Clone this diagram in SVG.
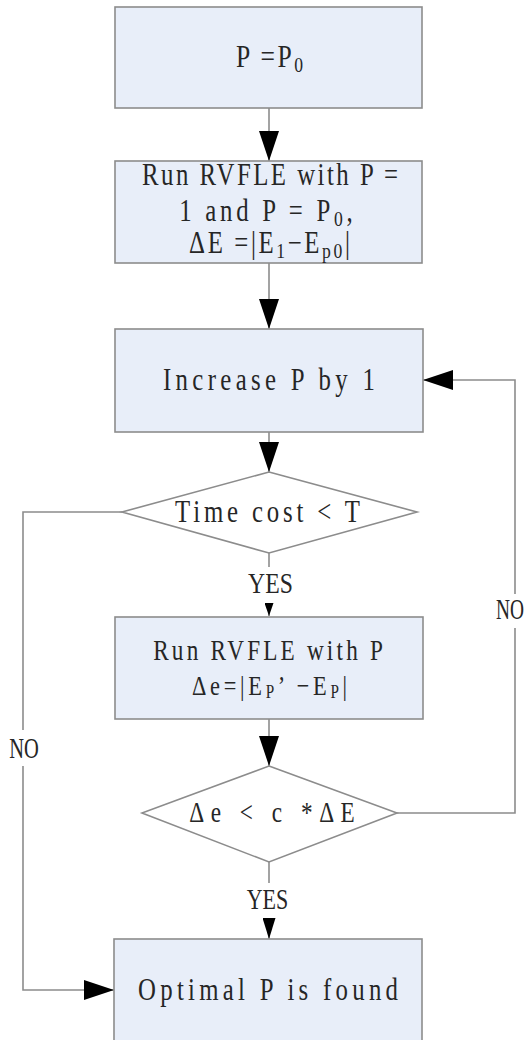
<svg xmlns="http://www.w3.org/2000/svg" width="529" height="1040" viewBox="0 0 529 1040">
  <style>
    .box { fill: #e8eef9; stroke: #8c8c8c; stroke-width: 1.6; }
    .dia { fill: #ffffff; stroke: #8c8c8c; stroke-width: 1.6; }
    .wire { fill: none; stroke: #8c8c8c; stroke-width: 1.6; }
    .t { font-family: "Liberation Serif", "DejaVu Serif", serif; fill: #262626; text-anchor: middle; }
  </style>
  <defs>
    <marker id="arrowBig" markerUnits="userSpaceOnUse" markerWidth="30" markerHeight="20" refX="30" refY="10" orient="auto">
      <path d="M0,0 L30,10 L0,20 Z" fill="#000000"/>
    </marker>
    <marker id="arrowMid" markerUnits="userSpaceOnUse" markerWidth="21" markerHeight="13" refX="21" refY="6.5" orient="auto">
      <path d="M0,0 L21,6.5 L0,13 Z" fill="#000000"/>
    </marker>
    <marker id="arrowSmall" markerUnits="userSpaceOnUse" markerWidth="13" markerHeight="9" refX="13" refY="4.5" orient="auto">
      <path d="M0,0 L13,4.5 L0,9 Z" fill="#000000"/>
    </marker>
  </defs>

  <!-- connectors -->
  <g id="connectors">
    <path class="wire" d="M269,108 V161" marker-end="url(#arrowBig)"/>
    <path class="wire" d="M269,263 V329" marker-end="url(#arrowBig)"/>
    <path class="wire" d="M269,432 V472" marker-end="url(#arrowBig)"/>
    <path class="wire" d="M269,553 V567"/>
    <path class="wire" d="M269,603 V616" marker-end="url(#arrowSmall)"/>
    <path class="wire" d="M269,719 V766" marker-end="url(#arrowBig)"/>
    <path class="wire" d="M269,862 V883"/>
    <path class="wire" d="M269,918 V939" marker-end="url(#arrowMid)"/>
    <!-- time limit exceeded: jump to result -->
    <path class="wire" d="M122,512 H23 V730"/>
    <path class="wire" d="M23,766 V990 H114" marker-end="url(#arrowBig)"/>
    <!-- error not small enough: loop back -->
    <path class="wire" d="M397,813 H515 V628"/>
    <path class="wire" d="M515,594 V380 H423" marker-end="url(#arrowBig)"/>
    <text class="t" font-size="30" transform="translate(24,758) scale(0.8,1)" textLength="37" lengthAdjust="spacingAndGlyphs">NO</text>
    <text class="t" font-size="30" transform="translate(510,619) scale(0.8,1)" textLength="35" lengthAdjust="spacingAndGlyphs">NO</text>
    <text class="t" font-size="30" transform="translate(270.5,593) scale(0.8,1)" textLength="56" lengthAdjust="spacingAndGlyphs">YES</text>
    <text class="t" font-size="30" transform="translate(267.5,909) scale(0.8,1)" textLength="52" lengthAdjust="spacingAndGlyphs">YES</text>
  </g>

  <g id="init">
    <rect class="box" x="115" y="7" width="307" height="101"/>
    <text class="t" font-size="32" transform="translate(269.5,67) scale(0.8,1)" textLength="84" lengthAdjust="spacing">P =P<tspan font-size="22" dy="5">0</tspan></text>
  </g>

  <g id="baseline-run">
    <rect class="box" x="115" y="161" width="307" height="102"/>
    <text class="t" font-size="31" transform="translate(270,185) scale(0.8,1)" textLength="320" lengthAdjust="spacing">Run RVFLE with P =</text>
    <text class="t" font-size="31" transform="translate(266,221) scale(0.8,1)" textLength="217" lengthAdjust="spacing">1 and P = P<tspan font-size="22" dy="5">0</tspan><tspan dy="-5">,</tspan></text>
    <text class="t" font-size="31" transform="translate(269.5,253) scale(0.8,1)" textLength="201" lengthAdjust="spacing">ΔE =|E<tspan font-size="22" dy="5">1</tspan><tspan dy="-5">−E</tspan><tspan font-size="22" dy="5">p0</tspan><tspan dy="-5">|</tspan></text>
  </g>

  <g id="increase">
    <rect class="box" x="115" y="329" width="308" height="103"/>
    <text class="t" font-size="31" transform="translate(269,390) scale(0.8,1)" textLength="265" lengthAdjust="spacing">Increase P by 1</text>
  </g>

  <g id="time-check">
    <polygon class="dia" points="269,472 417,512 269,553 122,512"/>
    <text class="t" font-size="31" transform="translate(267.5,522) scale(0.8,1)" textLength="231" lengthAdjust="spacing">Time cost &lt; T</text>
  </g>

  <g id="run-p">
    <rect class="box" x="115" y="617" width="308" height="102"/>
    <text class="t" font-size="29" transform="translate(268,660) scale(0.8,1)" textLength="287" lengthAdjust="spacing">Run RVFLE with P</text>
    <text class="t" font-size="28" transform="translate(269.5,695) scale(0.8,1)" textLength="194" lengthAdjust="spacing">Δe=|E<tspan font-size="19" dy="3">P</tspan><tspan dy="-3">’ −E</tspan><tspan font-size="19" dy="3">P</tspan><tspan dy="-3">|</tspan></text>
  </g>

  <g id="error-check">
    <polygon class="dia" points="269,766 397,813 269,862 142,813"/>
    <text class="t" font-size="29" transform="translate(272,822) scale(0.8,1)" textLength="207" lengthAdjust="spacing">Δe &lt; c *ΔE</text>
  </g>

  <g id="result">
    <rect class="box" x="114" y="939" width="308" height="110"/>
    <text class="t" font-size="31" transform="translate(268,1000) scale(0.8,1)" textLength="325" lengthAdjust="spacing">Optimal P is found</text>
  </g>
</svg>
